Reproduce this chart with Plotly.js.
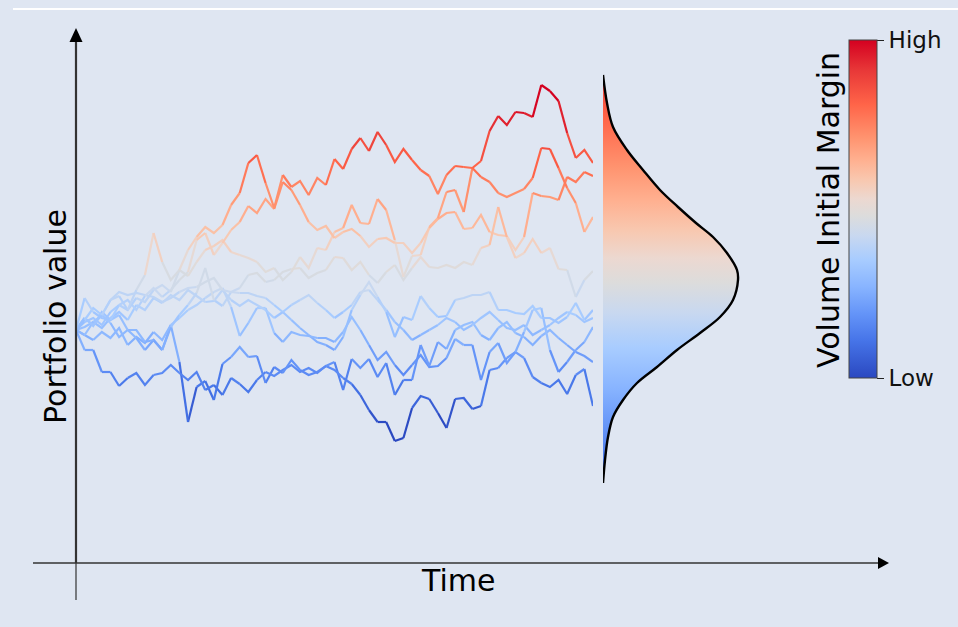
<!DOCTYPE html>
<html><head><meta charset="utf-8">
<script src="https://cdn.plot.ly/plotly-3.0.1.min.js"></script>
<style>html,body{margin:0;padding:0;background:#dfe6f2;}#chart{width:958px;height:627px;}</style>
</head><body><div id="chart"></div>
<script>
// ---- data (portfolio value, arbitrary units; 0 = start value) ----
const timeSteps = Array.from({length: 61}, (_, i) => i);

const pathA = [0,8,12,5,18,25,20,32,28,40, 45,38,60,80,93,103,97,105,125,137, 167,175,147,122,155,143,149,135,152,145, 171,161,181,192,179,198,185,168,181,170, 160,154,136,155,164,163,162,169,199,214, 205,218,217,213,245,239,229,197,172,180, 167];
const pathB = [0,12,4,18,10,25,30,20,34,42, 33,40,50,58,90,97,75,87,100,108, 124,117,131,121,148,140,125,108,100,104, 92,98,101,94,83,91,92,87,87,77, 87,102,111,117,118,101,102,115,98,95, 94,80,93,137,134,133,130,153,148,158, 154];
const pathC = [0,10,22,15,30,34,20,40,55,97, 68,50,60,54,68,80,84,90,78,75, 72,68,58,62,50,58,73,62,82,80, 98,102,125,107,106,131,120,90,53,74, 75,103,112,138,140,118,162,153,148,137, 133,137,141,152,182,181,162,142,127,98, 113];
const pathD = [0,-5,8,2,12,18,10,25,20,32, 27,35,30,40,34,28,29,40,38,42, 55,57,48,50,58,61,62,52,57,60, 73,72,60,68,55,47,58,65,50,62, 73,63,62,65,62,68,65,82,85,123, 93,72,77,91,77,82,61,60,33,50, 59];
const pathE = [0,32,18,12,10,15,0,0,-12,-10, -20,3,15,25,37,62,30,24,38,37, 37,34,32,25,18,10,2,-5,-12,-15, -20,-7,20,35,48,33,18,-7,13,10, 34,22,13,14,30,32,35,35,38,20, 20,17,16,24,12,12,7,13,27,10, 20];
const pathF = [0,-5,-10,-2,-8,2,-15,-7,-13,-2, -10,5,12,20,25,32,38,42,23,-6, 7,22,22,-3,-12,-2,-5,-6,-8,-8, -12,-2,13,0,-15,-30,-22,-35,-45,-35, -25,-37,-36,-28,-9,-15,-15,-50,-22,-13, -33,-22,-2,20,22,-20,-42,-32,-20,-12, 3];
const pathG = [0,-20,-20,-42,-42,-56,-48,-43,-55,-45, -43,-35,-43,-50,-42,-60,-55,-65,-48,-54, -62,-50,-42,-46,-40,-35,-42,-38,-43,-36, -32,-60,-29,-38,-29,-47,-33,-65,-50,-50, -15,-36,-12,-19,0,5,8,-5,-10,2, 8,-3,-7,-15,-6,0,-8,-15,-22,-26, -32];
const pathH = [0,12,5,15,7,-7,0,-8,-20,-10, -20,5,-32,-92,-57,-51,-70,-34,-27,-17, -27,-26,-53,-37,-43,-30,-40,-45,-42,-36, -40,-48,-54,-65,-80,-92,-92,-111,-108,-78, -66,-69,-83,-98,-69,-68,-79,-76,-40,-38, -28,-22,-28,-47,-53,-57,-50,-64,-45,-39, -76];
const pathI = [0,3,8,15,30,38,35,37,35,33, 28,32,38,42,43,48,52,40,30,24, 30,25,20,12,18,25,30,35,27,20, 12,18,25,38,40,30,20,8,0,-10, -5,0,5,12,8,0,5,12,18,10, 2,0,5,-5,0,5,12,18,15,8, 12];

// distribution of final value (level -> density)
const distLevel   = [255,227,203,180,160,140,123,107,93,77,60,50,30,13,-3,-20,-37,-53,-70,-87,-107,-130,-153];
const distDensity = [0,4,10,24,40,57,75,93,110,124,134,135,130,117,97,74,54,34,20,10,5,2,0];

const colorbarTickVals = [0, 1];
const colorbarTickText = ['Low', 'High'];

// ---- styling ----
const colorscale = [[0,'#2a48c0'],[0.11,'#4674e8'],[0.19,'#6494f8'],[0.27,'#88b4ff'],[0.35,'#a8ccff'],[0.42,'#c8d8f0'],[0.48,'#dcdcdc'],[0.53,'#ecd8d0'],[0.585,'#f8c8b0'],[0.645,'#ffb090'],[0.71,'#ff9470'],[0.81,'#ff6448'],[0.91,'#e83838'],[1,'#d40020']];
const FONT = 'DejaVu Sans, Arial, sans-serif';
const W = 958, H = 627;
const px = x => x / W, py = y => 1 - y / H;

function hex(h){ return [parseInt(h.slice(1,3),16),parseInt(h.slice(3,5),16),parseInt(h.slice(5,7),16)]; }
function colorAt(p){
  p = Math.max(0, Math.min(1, p));
  for (let i = 0; i < colorscale.length - 1; i++){
    const [p0,c0] = colorscale[i], [p1,c1] = colorscale[i+1];
    if (p <= p1){
      const t = (p - p0) / (p1 - p0), a = hex(c0), b = hex(c1);
      return 'rgb(' + a.map((v,k)=>Math.round(v + (b[k]-v)*t)).join(',') + ')';
    }
  }
  return colorscale[colorscale.length-1][1];
}

const paths = [pathH, pathG, pathF, pathI, pathE, pathD, pathC, pathB, pathA];
const all = paths.flat();
const vmin = Math.min(...all), vmax = Math.max(...all);
const nBins = 48;
const bins = Array.from({length: nBins}, () => ({x: [], y: []}));
paths.forEach(path => {
  let runBin = -1, run = null;
  const flush = () => { if (run){ bins[runBin].x.push(...run.x, null); bins[runBin].y.push(...run.y, null); } };
  for (let k = 0; k < path.length - 1; k++){
    const m = (path[k] + path[k+1]) / 2;
    let b = Math.floor((m - vmin) / (vmax - vmin) * nBins);
    b = Math.max(0, Math.min(nBins - 1, b));
    if (b !== runBin){ flush(); run = {x: [timeSteps[k]], y: [path[k]]}; runBin = b; }
    run.x.push(timeSteps[k+1]); run.y.push(path[k+1]);
  }
  flush();
});

const traces = [];
bins.forEach((bn, i) => {
  if (!bn.x.length) return;
  const p = 0.5 + ((i + 0.5) / nBins - 0.5) * 1.1;
  traces.push({type:'scatter', mode:'lines', x: bn.x, y: bn.y, xaxis:'x', yaxis:'y',
    line:{color: colorAt(p), width: 2.2}, opacity: 1,
    hoverinfo:'skip', showlegend:false});
});

traces.push({type:'scatter', mode:'lines', x: distDensity, y: distLevel, xaxis:'x2', yaxis:'y',
  fill:'tozerox', fillgradient:{type:'vertical', colorscale: colorscale, start: -193, stop: 307},
  line:{color:'#000000', width:2.4, shape:'spline'}, hoverinfo:'skip', showlegend:false});

traces.push({type:'scatter', mode:'markers', x:[30], y:[0], xaxis:'x', yaxis:'y',
  marker:{color:[0.5], colorscale: colorscale, cmin:0, cmax:1, size:1, opacity:0, showscale:true,
    colorbar:{x: px(849), xanchor:'left', xpad:0, y: py(40), yanchor:'top', ypad:0,
      len: 338, lenmode:'pixels', thickness: 28, thicknessmode:'pixels',
      tickvals: colorbarTickVals, ticktext: colorbarTickText, ticks:'outside', ticklen:7,
      tickcolor:'#222', tickwidth:1, tickfont:{family: FONT, size: 23, color:'#111'},
      outlinewidth:1, outlinecolor:'#444'}},
  hoverinfo:'skip', showlegend:false});

const layout = {
  width: W, height: H, margin:{l:0,r:0,t:0,b:0},
  paper_bgcolor:'#dfe6f2', plot_bgcolor:'rgba(0,0,0,0)', showlegend:false, hovermode:false,
  xaxis:{domain:[px(76), px(593)], range:[0,60], visible:false, fixedrange:true},
  xaxis2:{domain:[px(603), 1], range:[0,355], anchor:'y', visible:false, fixedrange:true},
  yaxis:{domain:[0,1], range:[330-H, 330], visible:false, fixedrange:true},
  shapes:[
    {type:'line', xref:'paper', yref:'paper', x0:px(13), x1:1, y0:py(9), y1:py(9), line:{color:'#ffffff', width:2}},
    {type:'line', xref:'paper', yref:'paper', x0:px(76), x1:px(76), y0:py(563), y1:py(40), line:{color:'#333333', width:2.2}},
    {type:'line', xref:'paper', yref:'paper', x0:px(76), x1:px(76), y0:py(563), y1:py(600), line:{color:'#333333', width:1.2}},
    {type:'line', xref:'paper', yref:'paper', x0:px(33), x1:px(880), y0:py(563), y1:py(563), line:{color:'#333333', width:1.5}},
    {type:'path', xref:'paper', yref:'paper', path:`M ${px(76)} ${py(28)} L ${px(69.5)} ${py(42)} L ${px(82.5)} ${py(42)} Z`, fillcolor:'#000000', line:{width:0}},
    {type:'path', xref:'paper', yref:'paper', path:`M ${px(889)} ${py(563)} L ${px(878)} ${py(557)} L ${px(878)} ${py(569)} Z`, fillcolor:'#000000', line:{width:0}}
  ],
  annotations:[
    {text:'Portfolio value', xref:'paper', yref:'paper', x:px(55), y:py(317), xanchor:'center', yanchor:'middle', textangle:-90, showarrow:false, font:{family:FONT, size:30, color:'#000'}},
    {text:'Time', xref:'paper', yref:'paper', x:px(458), y:py(580), xanchor:'center', yanchor:'middle', showarrow:false, font:{family:FONT, size:30, color:'#000'}},
    {text:'Volume Initial Margin', xref:'paper', yref:'paper', x:px(829), y:py(210), xanchor:'center', yanchor:'middle', textangle:-90, showarrow:false, font:{family:FONT, size:30, color:'#000'}}
  ]
};

Plotly.newPlot('chart', traces, layout, {staticPlot:true, displayModeBar:false});
</script>
</body></html>
